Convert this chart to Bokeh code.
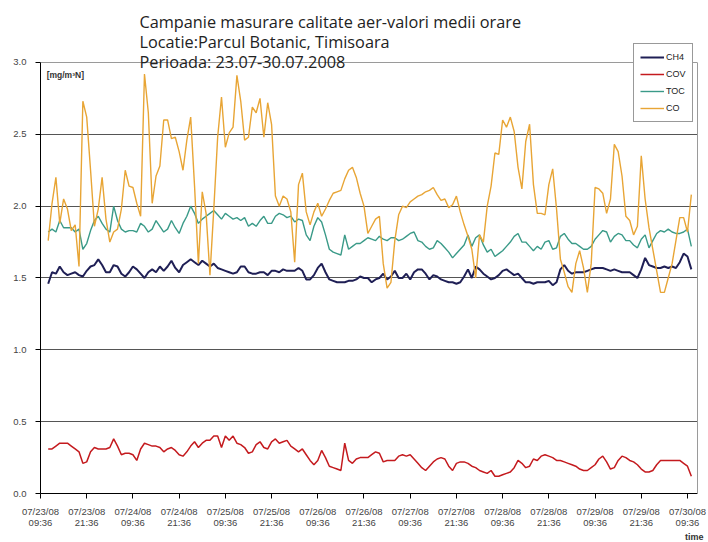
import pandas as pd
from bokeh.plotting import figure
from bokeh.models import (Range1d, FixedTicker, Legend, LegendItem, Label, Title, Grid,
                          LinearAxis, DatetimeAxis, ColumnDataSource, NumeralTickFormatter)
from bokeh.embed import file_html
from bokeh.resources import INLINE

# ---------------- data ----------------
axis_start = "2008-07-23 09:36"     # first tick of the time axis
series_start = "2008-07-23 11:36"   # first hourly mean
tick_dates = ["07/23/08", "07/23/08", "07/24/08", "07/24/08", "07/25/08", "07/25/08",
              "07/26/08", "07/26/08", "07/27/08", "07/27/08", "07/28/08", "07/28/08",
              "07/29/08", "07/29/08", "07/30/08"]
tick_times = ["09:36", "21:36", "09:36", "21:36", "09:36", "21:36", "09:36", "21:36",
              "09:36", "21:36", "09:36", "21:36", "09:36", "21:36", "09:36"]
y_ticks = [0.0, 0.5, 1.0, 1.5, 2.0, 2.5, 3.0]
series_names = ["CH4", "COV", "TOC", "CO"]

ch4 = [1.46, 1.54, 1.53, 1.58, 1.54, 1.52, 1.53, 1.54, 1.52, 1.51,
       1.55, 1.58, 1.59, 1.63, 1.59, 1.54, 1.54, 1.59, 1.58, 1.53,
       1.51, 1.54, 1.58, 1.56, 1.53, 1.50, 1.54, 1.56, 1.54, 1.58,
       1.55, 1.58, 1.62, 1.57, 1.54, 1.59, 1.61, 1.63, 1.61, 1.59,
       1.62, 1.60, 1.58, 1.60, 1.57, 1.56, 1.55, 1.54, 1.53, 1.54,
       1.58, 1.58, 1.54, 1.53, 1.53, 1.54, 1.54, 1.52, 1.55, 1.55,
       1.54, 1.56, 1.55, 1.55, 1.55, 1.57, 1.55, 1.49, 1.49, 1.52,
       1.57, 1.60, 1.54, 1.49, 1.48, 1.47, 1.47, 1.47, 1.48, 1.48,
       1.49, 1.51, 1.50, 1.50, 1.47, 1.49, 1.50, 1.53, 1.49, 1.51,
       1.55, 1.50, 1.50, 1.53, 1.49, 1.54, 1.56, 1.56, 1.53, 1.49,
       1.52, 1.51, 1.49, 1.48, 1.47, 1.47, 1.46, 1.47, 1.51, 1.56,
       1.50, 1.58, 1.56, 1.53, 1.51, 1.49, 1.50, 1.52, 1.55, 1.56,
       1.54, 1.52, 1.53, 1.50, 1.47, 1.47, 1.46, 1.47, 1.47, 1.47,
       1.48, 1.45, 1.47, 1.56, 1.59, 1.55, 1.53, 1.54, 1.54, 1.54,
       1.55, 1.56, 1.57, 1.57, 1.57, 1.56, 1.55, 1.56, 1.55, 1.54,
       1.54, 1.54, 1.52, 1.50, 1.56, 1.64, 1.59, 1.58, 1.57, 1.57,
       1.58, 1.57, 1.58, 1.57, 1.61, 1.67, 1.65, 1.56]

cov = [0.31, 0.31, 0.33, 0.35, 0.35, 0.35, 0.33, 0.31, 0.29, 0.21,
       0.22, 0.29, 0.32, 0.31, 0.31, 0.31, 0.32, 0.38, 0.33, 0.27,
       0.28, 0.28, 0.27, 0.23, 0.31, 0.35, 0.34, 0.33, 0.33, 0.32,
       0.29, 0.31, 0.32, 0.30, 0.27, 0.26, 0.29, 0.33, 0.36, 0.32,
       0.35, 0.37, 0.37, 0.40, 0.40, 0.32, 0.40, 0.37, 0.40, 0.35,
       0.34, 0.32, 0.28, 0.29, 0.34, 0.36, 0.32, 0.31, 0.36, 0.38,
       0.35, 0.36, 0.37, 0.33, 0.31, 0.29, 0.31, 0.27, 0.23, 0.20,
       0.23, 0.30, 0.25, 0.19, 0.18, 0.17, 0.16, 0.35, 0.23, 0.21,
       0.24, 0.25, 0.25, 0.25, 0.27, 0.29, 0.28, 0.22, 0.23, 0.23,
       0.23, 0.26, 0.27, 0.26, 0.27, 0.24, 0.21, 0.18, 0.16, 0.19,
       0.22, 0.24, 0.25, 0.24, 0.19, 0.16, 0.21, 0.22, 0.22, 0.21,
       0.19, 0.18, 0.16, 0.15, 0.14, 0.16, 0.12, 0.12, 0.13, 0.14,
       0.15, 0.18, 0.23, 0.21, 0.18, 0.19, 0.24, 0.23, 0.26, 0.27,
       0.26, 0.25, 0.23, 0.23, 0.22, 0.21, 0.20, 0.19, 0.17, 0.16,
       0.16, 0.18, 0.20, 0.24, 0.26, 0.22, 0.17, 0.18, 0.23, 0.26,
       0.25, 0.23, 0.22, 0.20, 0.17, 0.15, 0.15, 0.16, 0.20, 0.23,
       0.23, 0.23, 0.23, 0.23, 0.23, 0.21, 0.19, 0.12]

toc = [1.82, 1.84, 1.82, 1.90, 1.85, 1.85, 1.85, 1.82, 1.84, 1.70,
       1.74, 1.83, 1.90, 1.93, 1.88, 1.84, 1.82, 2.00, 1.90, 1.84,
       1.82, 1.83, 1.83, 1.82, 1.88, 1.86, 1.82, 1.84, 1.90, 1.86,
       1.82, 1.84, 1.90, 1.85, 1.81, 1.88, 1.93, 2.00, 1.95, 1.88,
       1.91, 1.93, 1.95, 1.97, 1.94, 1.91, 1.95, 1.93, 1.91, 1.92,
       1.90, 1.92, 1.86, 1.88, 1.86, 1.90, 1.93, 1.88, 1.88, 1.93,
       1.95, 1.94, 1.92, 1.93, 1.89, 1.91, 1.90, 1.80, 1.76, 1.86,
       1.92, 1.89, 1.80, 1.70, 1.68, 1.67, 1.66, 1.80, 1.70, 1.72,
       1.74, 1.74, 1.76, 1.78, 1.77, 1.76, 1.79, 1.77, 1.76, 1.78,
       1.78, 1.76, 1.77, 1.79, 1.81, 1.82, 1.76, 1.75, 1.72, 1.70,
       1.71, 1.76, 1.74, 1.71, 1.68, 1.64, 1.67, 1.70, 1.73, 1.80,
       1.72, 1.78, 1.80, 1.73, 1.68, 1.70, 1.65, 1.67, 1.69, 1.72,
       1.75, 1.79, 1.81, 1.75, 1.75, 1.72, 1.69, 1.72, 1.70, 1.75,
       1.76, 1.70, 1.71, 1.79, 1.81, 1.77, 1.74, 1.74, 1.72, 1.70,
       1.70, 1.72, 1.77, 1.80, 1.83, 1.82, 1.75, 1.79, 1.81, 1.80,
       1.76, 1.76, 1.73, 1.71, 1.77, 1.80, 1.71, 1.76, 1.81, 1.83,
       1.82, 1.84, 1.82, 1.81, 1.81, 1.82, 1.84, 1.72]

co = [1.76, 2.02, 2.20, 1.88, 2.05, 1.98, 1.83, 1.87, 1.58, 2.73,
      2.62, 2.25, 1.86, 1.98, 2.20, 1.91, 1.75, 1.82, 1.84, 1.98,
      2.25, 2.14, 2.13, 2.02, 1.93, 2.92, 2.65, 2.02, 2.21, 2.28,
      2.60, 2.60, 2.47, 2.48, 2.38, 2.25, 2.46, 2.62, 2.14, 1.60,
      2.10, 1.95, 1.52, 1.98, 2.48, 2.76, 2.41, 2.51, 2.55, 2.91,
      2.73, 2.46, 2.48, 2.69, 2.65, 2.75, 2.48, 2.72, 2.57, 2.07,
      2.00, 2.07, 2.05, 1.96, 1.61, 2.15, 2.23, 1.96, 1.87, 1.96,
      2.02, 1.93, 1.98, 2.04, 2.09, 2.10, 2.11, 2.19, 2.25, 2.27,
      2.20, 2.09, 2.00, 1.81, 1.86, 1.91, 1.93, 1.60, 1.43, 1.47,
      1.76, 1.94, 2.00, 1.99, 2.03, 2.05, 2.07, 2.08, 2.10, 2.11,
      2.13, 2.08, 2.04, 2.05, 1.99, 2.01, 2.07, 1.96, 1.87, 1.79,
      1.70, 1.50, 1.80, 1.75, 2.00, 2.14, 2.37, 2.36, 2.60, 2.55,
      2.62, 2.52, 2.27, 2.12, 2.45, 2.57, 2.15, 1.95, 1.95, 1.94,
      2.15, 2.26, 1.98, 1.63, 1.54, 1.44, 1.40, 1.60, 1.69, 1.57,
      1.40, 1.60, 2.13, 2.12, 2.09, 1.95, 2.05, 2.43, 2.38, 2.21,
      1.93, 1.90, 1.80, 1.86, 2.35, 2.05, 1.85, 1.70, 1.55, 1.40,
      1.40, 1.50, 1.60, 1.76, 1.92, 1.92, 1.82, 2.08]

# ---------------- figure ----------------
HOUR = 3600 * 1000.0
t0_ms = pd.Timestamp(axis_start).value / 1e6
times = pd.date_range(series_start, periods=len(co), freq="h")
src = ColumnDataSource(dict(t=times, ch4=ch4, cov=cov, toc=toc, co=co))

# the plotting frame reaches the top edge so the heading / legend are not clipped;
# the axes are bounded to 0..3 like the original
p = figure(width=706, height=540, x_axis_type="datetime", output_backend="svg",
           toolbar_location=None, title=None,
           x_range=Range1d(t0_ms, t0_ms + 170.6 * HOUR), y_range=Range1d(0, 3.4315),
           min_border_left=40, min_border_right=9, min_border_top=0, min_border_bottom=47)
p.background_fill_color = "white"
p.border_fill_color = "white"
p.outline_line_color = None

# grid
p.xgrid.visible = False
p.ygrid.ticker = FixedTicker(ticks=y_ticks[1:-1])
p.ygrid.grid_line_color = "#555555"
p.ygrid.grid_line_width = 1
top_grid = Grid(dimension=1, ticker=FixedTicker(ticks=[y_ticks[-1]]),
                grid_line_color="#9a9a9a", grid_line_width=1)
p.add_layout(top_grid)

# axes
tick_pos = [t0_ms + i * 12 * HOUR for i in range(len(tick_dates))]
label_style = dict(major_label_text_font="Liberation Sans", major_label_text_font_size="9.5px",
                   major_label_text_color="#444444")

xa = p.xaxis[0]
xa.ticker = FixedTicker(ticks=tick_pos)
xa.major_label_overrides = {tp: lab for tp, lab in zip(tick_pos, tick_dates)}
xa.minor_tick_line_color = None
xa.major_tick_out = 5
xa.major_tick_in = 0
xa.major_label_standoff = 7
xa.axis_line_color = "black"
xa.major_tick_line_color = "black"
for k, v in label_style.items():
    setattr(xa, k, v)

xa2 = DatetimeAxis(ticker=FixedTicker(ticks=tick_pos),
                   major_label_overrides={tp: lab for tp, lab in zip(tick_pos, tick_times)},
                   axis_line_color=None, major_tick_line_color=None,
                   minor_tick_line_color=None, major_tick_out=0, major_tick_in=0,
                   major_label_standoff=-3, **label_style)
p.add_layout(xa2, "below")

ya = p.yaxis[0]
ya.bounds = (y_ticks[0], y_ticks[-1])
ya.ticker = FixedTicker(ticks=y_ticks)
ya.formatter = NumeralTickFormatter(format="0.0")
ya.minor_tick_line_color = None
ya.major_tick_out = 5
ya.major_tick_in = 0
ya.major_label_standoff = 9
ya.axis_line_color = "black"
ya.major_tick_line_color = "black"
for k, v in label_style.items():
    setattr(ya, k, v)

right_border = LinearAxis(ticker=FixedTicker(ticks=[]), bounds=(y_ticks[0], y_ticks[-1]),
                          axis_line_color="#9a9a9a", major_tick_line_color=None,
                          minor_tick_line_color=None)
p.add_layout(right_border, "right")

# series
colors = {"CH4": "#1f1f55", "COV": "#c41a1e", "TOC": "#3a9a88", "CO": "#e8a535"}
widths = {"CH4": 2.0, "COV": 1.5, "TOC": 1.4, "CO": 1.4}
renderers = {}
for name, col in zip(series_names, ["ch4", "cov", "toc", "co"]):
    renderers[name] = p.line("t", col, source=src, line_color=colors[name],
                             line_width=widths[name])

legend = Legend(items=[LegendItem(label=n, renderers=[renderers[n]]) for n in series_names],
                location=(593, 371))
legend.border_line_color = "#333333"
legend.border_line_width = 1
legend.background_fill_color = "white"
legend.background_fill_alpha = 1
legend.label_text_font = "Liberation Sans"
legend.label_text_font_size = "9px"
legend.label_text_color = "#222222"
legend.glyph_width = 24
legend.glyph_height = 14
legend.label_height = 14
legend.label_standoff = 2
legend.spacing = 3
legend.padding = 6
legend.margin = 0
p.add_layout(legend)

# heading lines
title_lines = ["Campanie masurare calitate aer-valori medii orare",
               "Locatie:Parcul Botanic, Timisoara",
               "Perioada: 23.07-30.07.2008"]
for i, line in enumerate(title_lines):
    p.add_layout(Label(x=t0_ms + 25.7 * HOUR, y=3.285 - 0.14 * i, text=line,
                       text_font="Open Sans", text_font_size="16.3px",
                       text_color="#222222", text_baseline="middle", text_align="left"))

p.add_layout(Label(x=t0_ms + 1.6 * HOUR, y=2.91, text="[mg/m³N]",
                   text_font="Liberation Sans", text_font_size="8.5px",
                   text_font_style="bold", text_color="#333333", text_baseline="middle"))

p.add_layout(Title(text="time", align="right", text_font="Liberation Sans",
                   text_font_size="9px", text_font_style="bold", text_color="#333333",
                   standoff=-2, offset=-6), "below")

open("out.html", "w").write(file_html(p, INLINE))
